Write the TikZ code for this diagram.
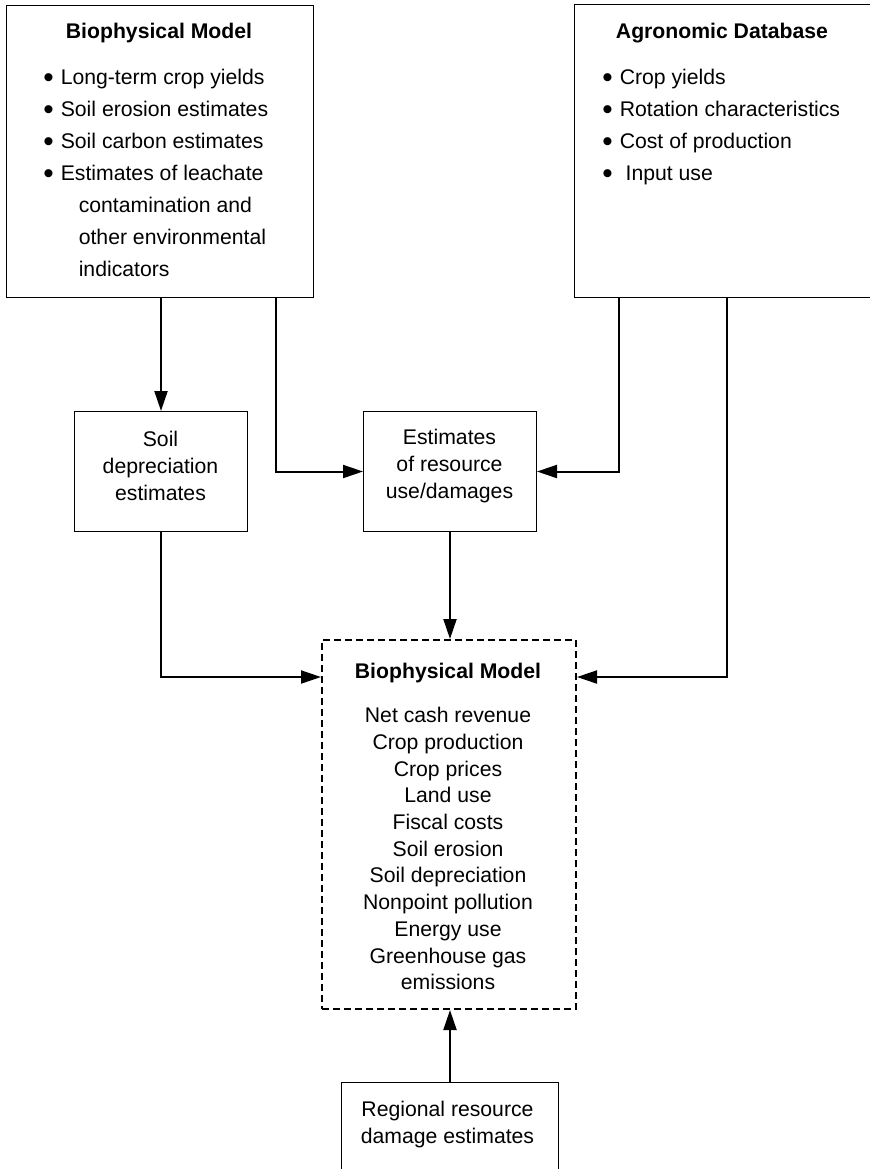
\documentclass[tikz,border=0pt]{standalone}
\usepackage{fontspec}
\usepackage{graphicx}
\setmainfont{Liberation Sans}
\usetikzlibrary{arrows.meta}
\newcommand{\itm}{\raisebox{-1.1pt}{\scalebox{1.4}{\textbullet}}}

\tikzset{
  box/.style={draw, line width=0.5pt, inner sep=0pt, anchor=north west},
  outbox/.style={draw, line width=1pt, dash pattern=on 3.5pt off 2pt, inner sep=0pt, anchor=north west},
  txt/.style={inner sep=0pt, font=\fontsize{10.6}{13.5}\selectfont, align=center},
  head/.style={inner sep=0pt, font=\fontsize{10.6}{13}\selectfont\bfseries},
  arr/.style={line width=1pt, -{Triangle[length=10pt,width=6.5pt]}},
  ln/.style={line width=1pt}
}

\begin{document}
\begin{tikzpicture}[x=0.5pt,y=-0.5pt]
\useasboundingbox (0,0) rectangle (869,1169);
% top row: the two source boxes
\node[box, minimum width=153.5pt, minimum height=146pt] (bioA) at (6,5) {};
\node[box, minimum width=149pt, minimum height=146.5pt] (agro) at (574,4) {};
\node[head] (bioAh) at (159,33) {Biophysical Model};
\node[head] (agroh) at (722,33) {Agronomic Database};
\node[inner sep=0pt, anchor=north west, font=\fontsize{10.6}{16}\selectfont] (bioAl) at (43,62) {%
  \begin{tabular}{@{}l@{\hspace{3.5pt}}l@{}}
  \itm & Long-term crop yields\\
  \itm & Soil erosion estimates\\
  \itm & Soil carbon estimates\\
  \itm & Estimates of leachate\\
       & \hspace{9pt}contamination and\\
       & \hspace{9pt}other environmental\\
       & \hspace{9pt}indicators
  \end{tabular}};
\node[inner sep=0pt, anchor=north west, font=\fontsize{10.6}{16}\selectfont] (agrol) at (602,62) {%
  \begin{tabular}{@{}l@{\hspace{3.5pt}}l@{}}
  \itm & Crop yields\\
  \itm & Rotation characteristics\\
  \itm & Cost of production\\
  \itm & \ Input use
  \end{tabular}};

% middle row
\node[box, minimum width=86.5pt, minimum height=60pt] (soil) at (74,411) {};
\node[box, minimum width=86.5pt, minimum height=60pt] (estim) at (363,411) {};
\node[txt] (soilt) at (160.5,466) {Soil\\depreciation\\estimates};
\node[txt] (estimt) at (449.5,466) {Estimates\\of resource\\use/damages};

% the dashed model box
\node[outbox, minimum width=127pt, minimum height=184.5pt] (bioB) at (321,639) {};
\node[head] (bioBh) at (448,673) {Biophysical Model};
\node[txt, font=\fontsize{10.6}{13.35}\selectfont, anchor=north] (bioBl) at (448,707) {Net cash revenue\\Crop production\\Crop prices\\Land use\\Fiscal costs\\Soil erosion\\Soil depreciation\\Nonpoint pollution\\Energy use\\Greenhouse gas\\emissions};

% bottom box, runs off the page
\node[box, minimum width=108.5pt, minimum height=47pt] (region) at (341,1082) {};
\node[txt] (regiont) at (447.5,1125) {Regional resource\\damage estimates};

% connectors
\draw[arr] (soil.north |- bioA.south) -- (soil.north);
\draw[arr] ([xshift=-19pt]bioA.south east) |- (estim.west);
\draw[arr] ([xshift=22.5pt]agro.south west) |- (estim.east);
\draw[arr] (estim.south) -- (estim.south |- bioB.north);
\draw[arr] (soil.south) |- ([yshift=-19pt]bioB.north west);
\draw[arr] ([xshift=1.75pt]agro.south) |- ([yshift=-19pt]bioB.north east);
\draw[arr] (region.north -| estim.south) -- (estim.south |- bioB.south);
\end{tikzpicture}
\end{document}
